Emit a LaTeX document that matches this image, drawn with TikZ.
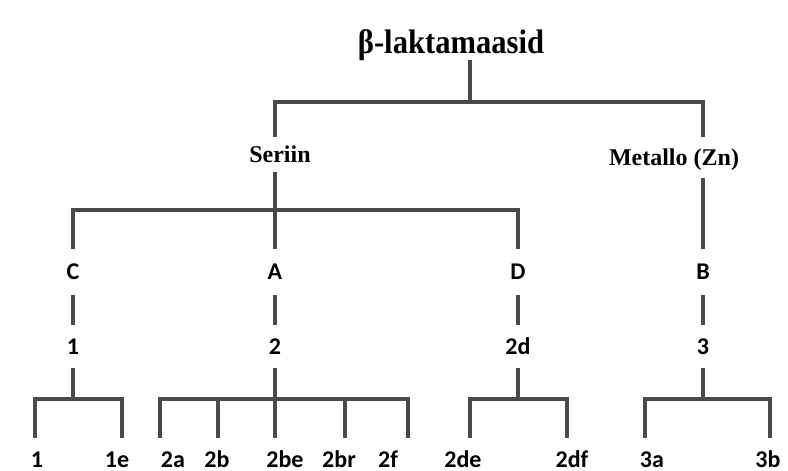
\documentclass[tikz,border=0pt]{standalone}
\usepackage{fontspec}
\setmainfont{Liberation Serif}
\newfontfamily\calibri{Carlito}
\newfontfamily\titlefont[FakeStretch=0.9]{Liberation Serif}
\definecolor{linegray}{HTML}{4A4A4A}

\begin{document}
\begin{tikzpicture}[x=1pt, y=-1pt,
  branch/.style={draw=linegray, line width=3.2pt},
  head/.style={font=\titlefont\bfseries\fontsize{34}{40}\selectfont, inner sep=0pt},
  group/.style={font=\bfseries\fontsize{24}{28}\selectfont, inner sep=0pt, text height=16pt, text depth=0pt},
  cls/.style={font=\calibri\bfseries\fontsize{24}{28}\selectfont, inner sep=0pt, text height=15pt, text depth=0pt},
  row1/.style={cls, minimum height=46pt},
  row2/.style={cls, minimum height=43pt},
  leaf/.style={cls, text height=29pt, anchor=base}]

  \useasboundingbox (0,0) rectangle (788,471);

  % top level
  \node[head, anchor=base] (root) at (451,53) {β-laktamaasid};
  \node[group, minimum height=35pt] (seriin) at (280,154.5) {Seriin};
  \node[group, minimum height=41pt] (metallo) at (674,157.5) {Metallo (Zn)};

  \coordinate (top) at (470,102);
  \coordinate (mB) at (703,102);
  \draw[branch] (root.south -| top) -- (top);
  \draw[branch] (top |- seriin.north) ++(-195,0) |- (top) -| (mB |- metallo.north);

  % classes
  \node[row1] (C) at (73,272) {C};
  \node[row1] (A) at (275,272) {A};
  \node[row1] (D) at (518,272) {D};
  \node[row1] (B) at (703,272) {B};

  \node[row2] (g1) at (73,346.5) {1};
  \node[row2] (g2) at (275,346.5) {2};
  \node[row2] (g2d) at (518,346.5) {2d};
  \node[row2] (g3) at (703,346.5) {3};

  \coordinate (sbar) at (275,210);
  \draw[branch] (A.north |- seriin.south) -- (A.north);
  \draw[branch] (C.north) |- (sbar) -| (D.north);
  \draw[branch] (mB |- metallo.south) -- (B.north);

  \draw[branch] (C.south) -- (g1.north);
  \draw[branch] (A.south) -- (g2.north);
  \draw[branch] (D.south) -- (g2d.north);
  \draw[branch] (B.south) -- (g3.north);

  % subgroups
  \node[leaf] (l1) at (37,467) {1};
  \node[leaf] (l1e) at (117,467) {1e};
  \node[leaf] (l2a) at (173,467) {2a};
  \node[leaf] (l2b) at (217,467) {2b};
  \node[leaf] (l2be) at (285,467) {2be};
  \node[leaf] (l2br) at (339,467) {2br};
  \node[leaf] (l2f) at (388,467) {2f};
  \node[leaf] (l2de) at (463,467) {2de};
  \node[leaf] (l2df) at (572,467) {2df};
  \node[leaf] (l3a) at (652,467) {3a};
  \node[leaf] (l3b) at (768,467) {3b};

  \coordinate (c1) at (35,399);   \coordinate (c2) at (122,399);
  \coordinate (a1) at (160,399);  \coordinate (a2) at (218,399);
  \coordinate (a3) at (275,399);  \coordinate (a4) at (345,399);
  \coordinate (a5) at (408,399);
  \coordinate (d1) at (470,399);  \coordinate (d2) at (567,399);
  \coordinate (b1) at (645,399);  \coordinate (b2) at (770,399);

  \draw[branch] (g1.south) -- (g1.south |- c1);
  \draw[branch] (c1 |- l1.north) -- (c1) -- (c2) -- (c2 |- l1e.north);

  \draw[branch] (g2.south) -- (a3 |- l2be.north);
  \draw[branch] (a1 |- l2a.north) -- (a1) -- (a5) -- (a5 |- l2f.north);
  \draw[branch] (a2) -- (a2 |- l2b.north);
  \draw[branch] (a4) -- (a4 |- l2br.north);

  \draw[branch] (g2d.south) -- (g2d.south |- d1);
  \draw[branch] (d1 |- l2de.north) -- (d1) -- (d2) -- (d2 |- l2df.north);

  \draw[branch] (g3.south) -- (g3.south |- b1);
  \draw[branch] (b1 |- l3a.north) -- (b1) -- (b2) -- (b2 |- l3b.north);

\end{tikzpicture}
\end{document}
